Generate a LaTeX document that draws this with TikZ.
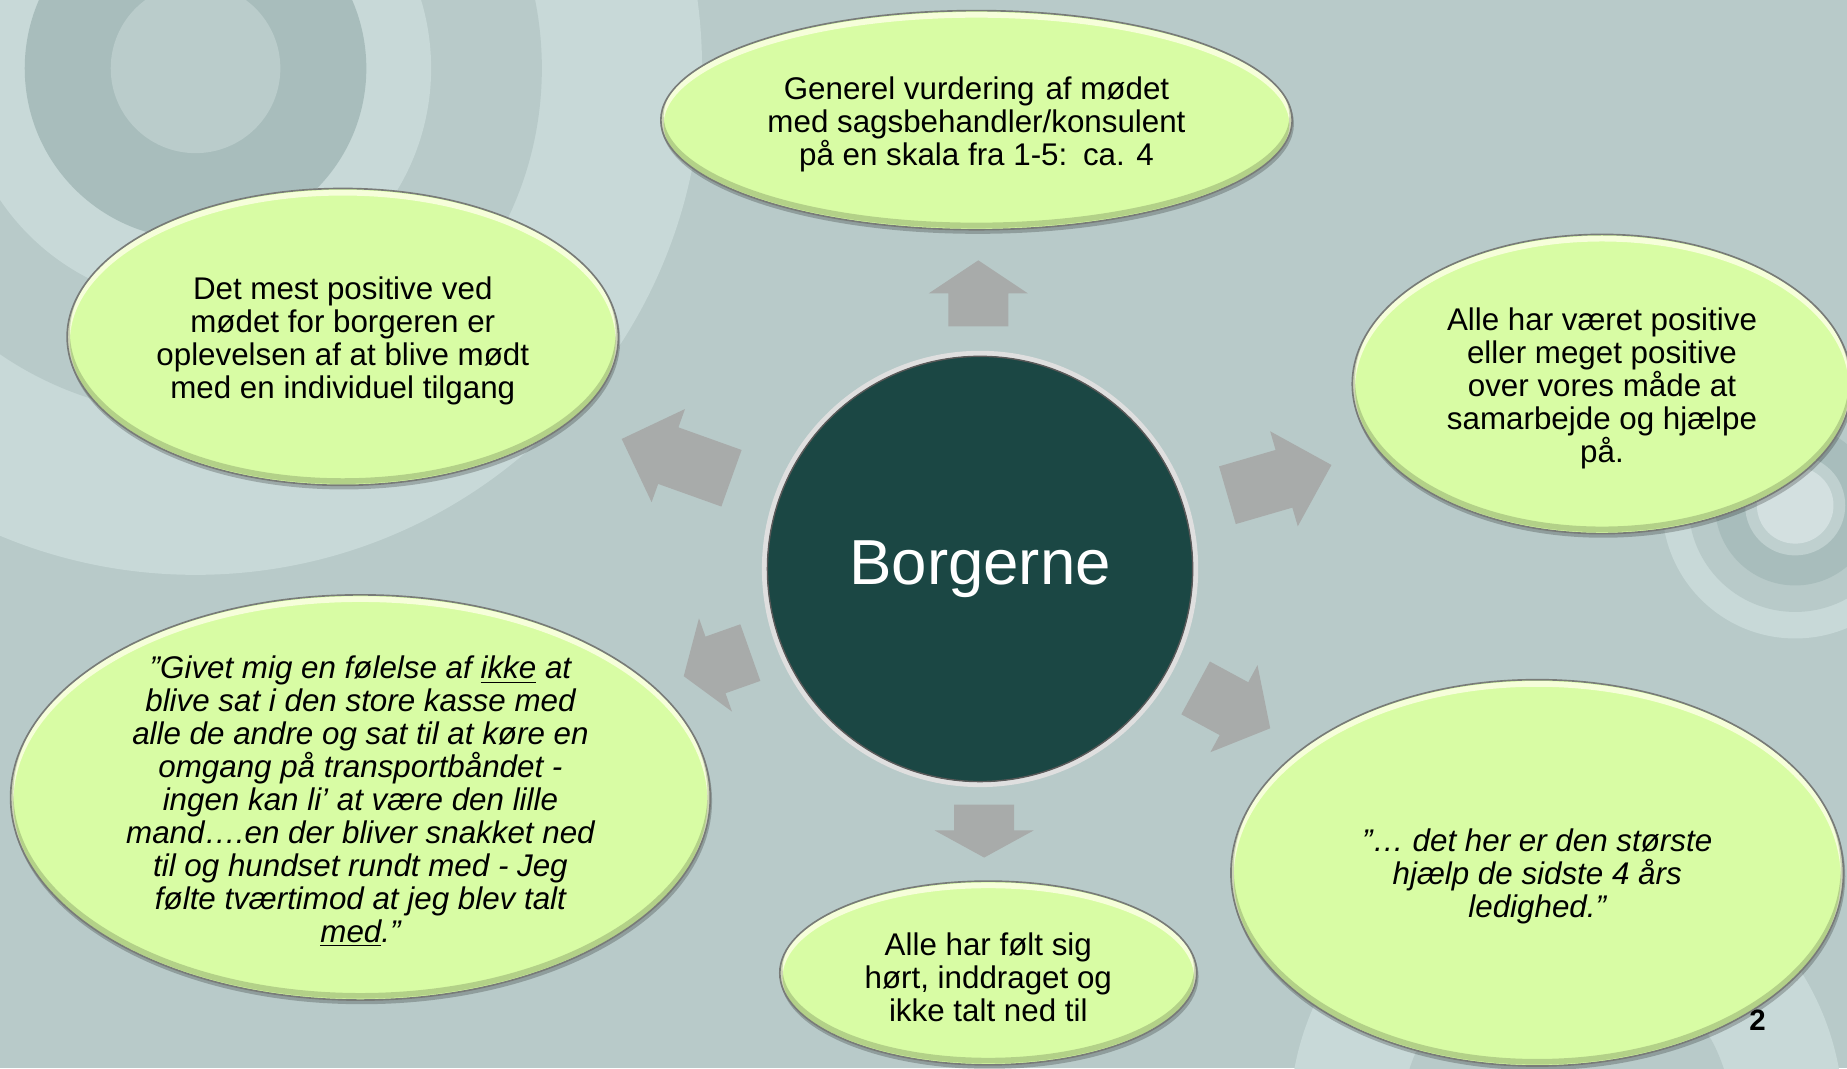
\documentclass[tikz,border=0pt]{standalone}
\usepackage{fontspec}
\setmainfont{Liberation Sans}
\usetikzlibrary{shapes.geometric}
\definecolor{bgc}{RGB}{184,202,201}
\definecolor{lightc}{RGB}{200,217,216}
\definecolor{darkc}{RGB}{168,189,188}
\definecolor{innerc}{RGB}{186,204,203}
\definecolor{ringc}{RGB}{191,208,207}
\definecolor{palec}{RGB}{211,224,224}
\definecolor{ellgreen}{RGB}{216,252,164}
\definecolor{hlc}{RGB}{252,255,228}
\definecolor{bordc}{RGB}{120,123,120}
\definecolor{arrowc}{RGB}{168,171,170}
\definecolor{tealc}{RGB}{27,71,68}
\tikzset{
  txt/.style={font=\fontsize{13.3}{14}\selectfont, align=center, text=black, inner sep=0pt},
  ital/.style={font=\fontsize{13.3}{14}\selectfont\itshape},
  bubble/.style n args={2}{ellipse, fill=ellgreen, draw=bordc, line width=0.7pt,
    inner sep=0pt, minimum width=#1pt, minimum height=#2pt,
    path picture={
      \draw[hlc, opacity=.85, line width=2.4pt] ([yshift=-1.8pt]path picture bounding box.center) ellipse [x radius=0.5*#1pt, y radius=0.5*#2pt];
      \draw[black, opacity=.17, line width=2.4pt] ([yshift=1.8pt]path picture bounding box.center) ellipse [x radius=0.5*#1pt, y radius=0.5*#2pt];
    }},
  shadowc/.style={fill=black, opacity=.22},
  barrowc/.style={fill=arrowc}
}
\newcommand\bubble[7]{%
  \fill[shadowc] (#2+1,#3+3) ellipse [x radius=#4+0.5, y radius=#5+0.5];
  \node[bubble={#4}{#5}] (#1) at (#2,#3) {};
  \node[txt, #6] (#1-t) at ([yshift=-1.7pt]#1.center) {#7};
}
\newcommand\barrow[5]{%
  \fill[barrowc, shift={(#1,#2)}, rotate=#3] (0,-25.5) -- ({#4-#5},-25.5) -- ({#4-#5},-42) -- (#4,0) -- ({#4-#5},42) -- ({#4-#5},25.5) -- (0,25.5) -- cycle;
}
\begin{document}
\begin{tikzpicture}[x=0.5pt, y=-0.5pt]
\useasboundingbox (0,0) rectangle (1568,907);
\clip (0,0) rectangle (1568,907);
\fill[bgc] (0,0) rectangle (1568,907);
% background rings top-left
\fill[lightc] (166,58) circle [radius=430];
\fill[bgc] (166,58) circle [radius=294];
\fill[lightc] (166,58) circle [radius=200];
\fill[darkc] (166,58) circle [radius=145];
\fill[innerc] (166,58) circle [radius=72];
% background rings right
\fill[lightc] (1524,429) circle [radius=113];
\fill[bgc] (1524,429) circle [radius=90.5];
\fill[darkc] (1524,429) circle [radius=68];
\fill[ringc] (1524,429) circle [radius=42.5];
\fill[palec] (1524,429) circle [radius=32.5];
% background ring bottom-right
\fill[lightc] (1330,950) circle [radius=235];
\fill[bgc] (1330,950) circle [radius=140];
% block arrows
\barrow{830.5}{277}{90}{56}{28}
\barrow{835.5}{683}{-90}{45}{23}
\barrow{621}{406}{160.3}{99}{42}
\barrow{1042}{420.4}{16.2}{92}{42}
\barrow{637}{554}{199.5}{60}{28.6}
\barrow{1015}{584}{-28.4}{72}{35}
% slide number
\node[font=\bfseries\fontsize{12.5}{14}\selectfont] (num) at (1492,866) {2};
% bubbles
\bubble{gen}{829}{102}{268}{93}{}{Generel vurdering\hspace{0.35em}af mødet\\med sagsbehandler/konsulent\\på en skala fra 1-5:\hspace{0.5em}ca. 4}
\bubble{det}{291}{286}{234}{126}{}{Det mest positive ved\\mødet for borgeren er\\oplevelsen af at blive mødt\\med en individuel tilgang}
\bubble{alle}{1360}{326}{212}{127}{}{Alle har været positive\\eller meget positive\\over vores måde at\\samarbejde og hjælpe\\på.}
\bubble{givet}{306}{677}{297}{172}{ital}{”Givet mig en følelse af \underline{ikke} at\\blive sat i den store kasse med\\alle de andre og sat til at køre en\\omgang på transportbåndet -\\ingen kan li’ at være den lille\\mand….en der bliver snakket ned\\til og hundset rundt med - Jeg\\følte tværtimod at jeg blev talt\\\underline{med}.”}
\bubble{hort}{839}{826}{177}{78}{}{Alle har følt sig\\hørt, inddraget og\\ikke talt ned til}
\bubble{storste}{1305}{741}{260}{164}{ital}{”…\ det her er den største\\hjælp de sidste 4 års\\ledighed.”}
% center circle
\node[circle, fill=tealc, draw=gray!25, line width=2.2pt, minimum size=183pt, inner sep=0pt,
  text=white, font=\fontsize{27}{30}\selectfont] (c) at (832,483) {Borgerne};
\draw[gray!70!black, line width=0.6pt] (c.center) circle [radius=180.5];
\end{tikzpicture}
\end{document}
